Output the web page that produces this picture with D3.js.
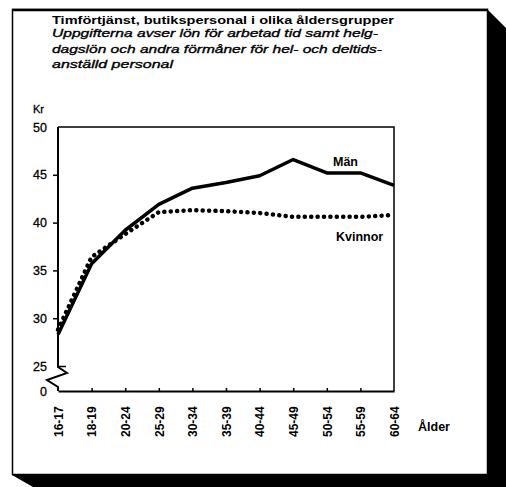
<!DOCTYPE html>
<html>
<head>
<meta charset="utf-8">
<script src="https://cdn.jsdelivr.net/npm/d3@7"></script>
<style>
  body { margin: 0; background: #fff; }
  text { font-family: "Liberation Sans", Arial, sans-serif; fill: #000; }
</style>
</head>
<body>
<script>
// age groups and hourly earnings (kr)
var ages = ["16-17", "18-19", "20-24", "25-29", "30-34", "35-39", "40-44", "45-49", "50-54", "55-59", "60-64"];
var man = [28.3, 35.7, 39.2, 41.9, 43.6, 44.2, 44.9, 46.6, 45.2, 45.2, 43.9];
var kvinnor = [28.8, 36.4, 38.8, 41.1, 41.3, 41.2, 41.0, 40.6, 40.6, 40.6, 40.8];
var yTicks = [0, 25, 30, 35, 40, 45, 50];

var W = 506, H = 487;

var svg = d3.select("body").append("svg")
    .attr("width", W)
    .attr("height", H);

// frame with shadow
svg.append("path")
    .attr("d", "M487,9 L506,28 L506,487 L33,487 L12,475 L488,475 L488,9 Z")
    .attr("fill", "#000");
svg.append("rect")
    .attr("x", 12.5).attr("y", 9.5)
    .attr("width", 475).attr("height", 465)
    .attr("fill", "#fff")
    .attr("stroke", "#000")
    .attr("stroke-width", 1.5);
svg.append("line")
    .attr("x1", 12).attr("x2", 488).attr("y1", 10).attr("y2", 10)
    .attr("stroke", "#000").attr("stroke-width", 2.5);

// titles
svg.append("text")
    .attr("x", 52).attr("y", 24)
    .attr("font-size", 11.5).attr("font-weight", "bold")
    .attr("textLength", 342).attr("lengthAdjust", "spacingAndGlyphs")
    .text("Timförtjänst, butikspersonal i olika åldersgrupper");

var sub = [
  ["Uppgifterna avser lön för arbetad tid samt helg-", 326],
  ["dagslön och andra förmåner för hel- och deltids-", 330],
  ["anställd personal", 121]
];
sub.forEach(function(s, i) {
  svg.append("text")
      .attr("x", 52).attr("y", 37 + i * 15.7)
      .attr("font-size", 11.5).attr("font-style", "italic")
      .attr("stroke", "#000").attr("stroke-width", 0.35)
      .attr("textLength", s[1]).attr("lengthAdjust", "spacingAndGlyphs")
      .text(s[0]);
});

// scales (broken y axis: 0 directly below 25)
var x = d3.scalePoint().domain(ages).range([58, 394]);
var y = d3.scaleLinear().domain([0, 25, 50]).range([391, 366, 127]);

var g = svg.append("g");

// plot box top and right
g.append("path")
    .attr("d", "M58," + y(50) + " L394," + y(50) + " L394," + y(0))
    .attr("fill", "none").attr("stroke", "#000").attr("stroke-width", 1.5);

// y axis line with break
g.append("path")
    .attr("d", "M58," + y(50) + " L58," + (y(25) + 1) + " L67,373 L47,380 L58,387 L58," + y(0))
    .attr("fill", "none").attr("stroke", "#000").attr("stroke-width", 2);

var yAxis = g.append("g")
    .attr("transform", "translate(58,0)")
    .call(d3.axisLeft(y).tickValues(yTicks).tickSize(5).tickPadding(6));
yAxis.select(".domain").remove();
yAxis.selectAll(".tick line").attr("stroke-width", 1.5);
yAxis.selectAll(".tick").filter(function(d) { return d === 0 || d === 50; }).select("line").remove();
yAxis.selectAll(".tick").filter(function(d) { return d === 25; }).select("line").attr("x2", 8);
yAxis.selectAll(".tick text")
    .attr("font-size", 12.5)
    .attr("stroke", "#000").attr("stroke-width", 0.3)
    .attr("font-family", "Liberation Sans, Arial, sans-serif");

svg.append("text")
    .attr("x", 33).attr("y", 113)
    .attr("font-size", 11)
    .attr("stroke", "#000").attr("stroke-width", 0.3)
    .text("Kr");

// x axis
var xAxis = g.append("g")
    .attr("transform", "translate(0," + y(0) + ")")
    .call(d3.axisBottom(x).tickSize(-3).tickSizeOuter(0));
xAxis.select(".domain").attr("stroke-width", 2);
xAxis.selectAll(".tick line").attr("stroke-width", 1.5);
xAxis.selectAll(".tick").filter(function(d, i) { return i === 0 || i === ages.length - 1; }).select("line").remove();
xAxis.selectAll(".tick text")
    .attr("font-size", 12)
    .attr("font-weight", "bold")
    .attr("font-family", "Liberation Sans, Arial, sans-serif")
    .attr("text-anchor", "start")
    .attr("y", 0).attr("x", 0).attr("dy", "0.35em")
    .attr("transform", "translate(0,46) rotate(-90)");

svg.append("text")
    .attr("x", 418).attr("y", 431)
    .attr("font-size", 12.5).attr("font-weight", "bold")
    .text("Ålder");

// lines
var line = d3.line()
    .x(function(d, i) { return x(ages[i]); })
    .y(function(d) { return y(d); });

g.append("path")
    .datum(kvinnor)
    .attr("d", line)
    .attr("fill", "none")
    .attr("stroke", "#000")
    .attr("stroke-width", 4.5)
    .attr("stroke-linecap", "round")
    .attr("stroke-dasharray", "0.1 6.3");

g.append("path")
    .datum(man)
    .attr("d", line)
    .attr("fill", "none")
    .attr("stroke", "#000")
    .attr("stroke-width", 3.5)
    .attr("stroke-linejoin", "round");

svg.append("text")
    .attr("x", 333).attr("y", 166)
    .attr("font-size", 12.5).attr("font-weight", "bold")
    .text("Män");
svg.append("text")
    .attr("x", 336).attr("y", 241)
    .attr("font-size", 12.5).attr("font-weight", "bold")
    .text("Kvinnor");
</script>
</body>
</html>
